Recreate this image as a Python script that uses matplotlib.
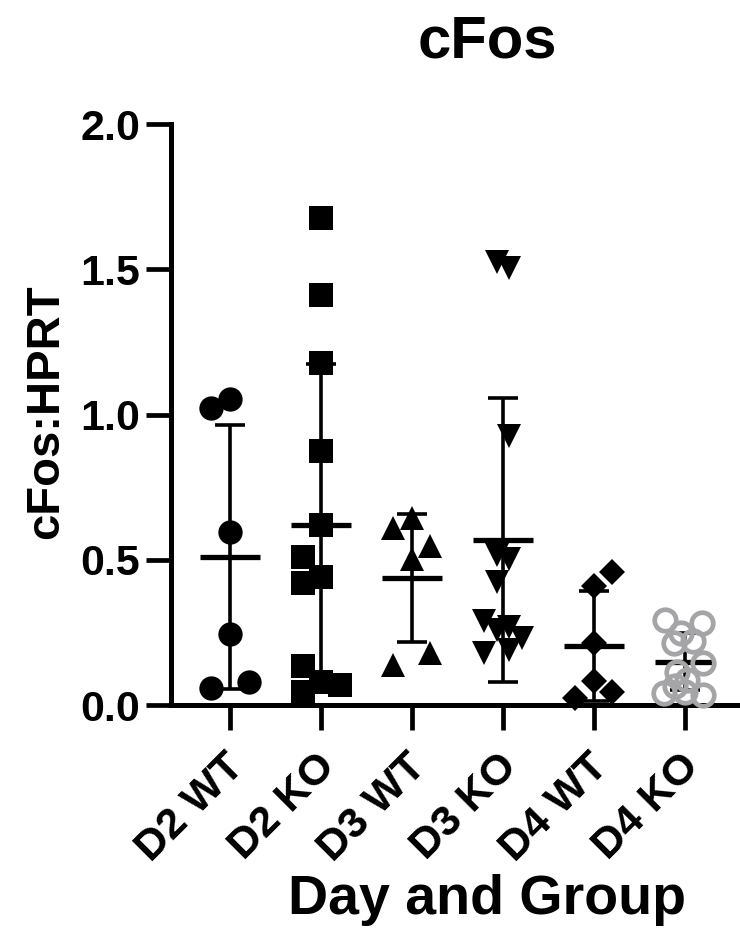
import numpy as np
import matplotlib
matplotlib.use('Agg')
import matplotlib.pyplot as plt
from matplotlib.transforms import ScaledTranslation

plt.rcParams['font.family'] = ['Liberation Sans', 'DejaVu Sans']
plt.rcParams['font.weight'] = 'bold'

# ---- data ----
groups = ['D2 WT', 'D2 KO', 'D3 WT', 'D3 KO', 'D4 WT', 'D4 KO']

d2_wt = [1.023, 1.054, 0.597, 0.246, 0.057, 0.080]
d2_ko = [1.678, 1.410, 1.177, 0.874, 0.618, 0.511, 0.440, 0.419, 0.135, 0.044, 0.078, 0.068]
d3_wt = [0.610, 0.644, 0.549, 0.501, 0.139, 0.180]
d3_ko = [1.525, 1.505, 0.926, 0.517, 0.501, 0.425, 0.289, 0.269, 0.259, 0.232, 0.179, 0.188]
d4_wt = [0.457, 0.408, 0.212, 0.082, 0.044, 0.023]
d4_ko = [0.294, 0.283, 0.248, 0.213, 0.219, 0.144, 0.115, 0.087, 0.040, 0.046, 0.035, 0.065]

# horizontal scatter of the points inside a column (pixels, like Prism does it)
d2_wt_dx = [-19, 0, 0, 0, -19, 19]
d2_ko_dx = [0, 0, 0, 0, 0, -18, 0, -18, -18, -18, 0, 19]
d3_wt_dx = [-19, 0, 18, 0, -19, 18]
d3_ko_dx = [-6, 6, 6, -6, 6, -6, -19, 6, -6, 19, -19, 6]
d4_wt_dx = [18, 0, 0, 0, 18, -19]
d4_ko_dx = [-20, 17, -4, -11, 8, 18, -8, 2, -21, 0, 18, -10]

values = [d2_wt, d2_ko, d3_wt, d3_ko, d4_wt, d4_ko]
offsets = [d2_wt_dx, d2_ko_dx, d3_wt_dx, d3_ko_dx, d4_wt_dx, d4_ko_dx]

# ---- styles ----
markers = ['o', 's', '^', 'v', 'D', 'o']
msizes = [17.5, 17, 17.5, 17.5, 13.5, 15.5]
faces = ['black', 'black', 'black', 'black', 'black', 'none']
edges = ['black', 'black', 'black', 'black', 'black', '#a5a5a7']
ewidths = [0, 0, 0, 0, 0, 3.4]

px_per_unit = 91.0   # pixel distance between two columns

fig = plt.figure(figsize=(7.40, 9.47), dpi=100)
ax = fig.add_axes([171/740, 1 - 705/947, 1 - 171/740, (705 - 124)/947])

for i, (vals, dx) in enumerate(zip(values, offsets)):
    vals = np.array(vals)
    xs = i + np.array(dx) / px_per_unit
    m = vals.mean()
    sd = vals.std(ddof=1)
    # error bar (mean +/- SD)
    ax.plot([i, i], [m - sd, m + sd], color='black', lw=2.6, zorder=2,
            solid_capstyle='butt', clip_on=False)
    for y in (m - sd, m + sd):
        ax.plot([i - 0.165, i + 0.165], [y, y], color='black', lw=2.6,
                zorder=2, solid_capstyle='butt', clip_on=False)
    ax.plot([i - 0.33, i + 0.33], [m, m], color='black', lw=3.8, zorder=2,
            solid_capstyle='butt', clip_on=False)
    ax.plot(xs, vals, linestyle='none', marker=markers[i], ms=msizes[i],
            mfc=faces[i], mec=edges[i], mew=ewidths[i], zorder=3, clip_on=False)

ax.set_xlim((171 - 230) / px_per_unit, (740 - 230) / px_per_unit)
ax.set_ylim(0, 2.0)
ax.set_yticks([0.0, 0.5, 1.0, 1.5, 2.0])
ax.set_yticklabels(['0.0', '0.5', '1.0', '1.5', '2.0'])
ax.set_xticks(range(len(groups)))
ax.set_xticklabels(groups, rotation=45, ha='right', rotation_mode='anchor')

for side in ('top', 'right'):
    ax.spines[side].set_visible(False)
for side in ('left', 'bottom'):
    ax.spines[side].set_linewidth(3.6)
    ax.spines[side].set_capstyle('projecting')

ax.tick_params(axis='both', direction='out', length=18, width=3.4,
               labelsize=31)
ax.tick_params(axis='y', pad=4)
ax.tick_params(axis='x', pad=12)
shift = ScaledTranslation(-6/100, 0, fig.dpi_scale_trans)
for lab in ax.get_xticklabels():
    lab.set_fontweight('bold')
    lab.set_transform(lab.get_transform() + shift)
for lab in ax.get_yticklabels():
    lab.set_fontweight('bold')

fig.text(487/740, 1 - 58/947, 'cFos', ha='center', va='baseline',
         fontsize=43, fontweight='bold')
fig.text(487/740, 1 - 914/947, 'Day and Group', ha='center', va='baseline',
         fontsize=40, fontweight='bold')
fig.text(46/740, 1 - 412/947, 'cFos:HPRT', ha='center', va='center',
         rotation=90, fontsize=34, fontweight='bold')

fig.savefig('out.png', dpi=100)
